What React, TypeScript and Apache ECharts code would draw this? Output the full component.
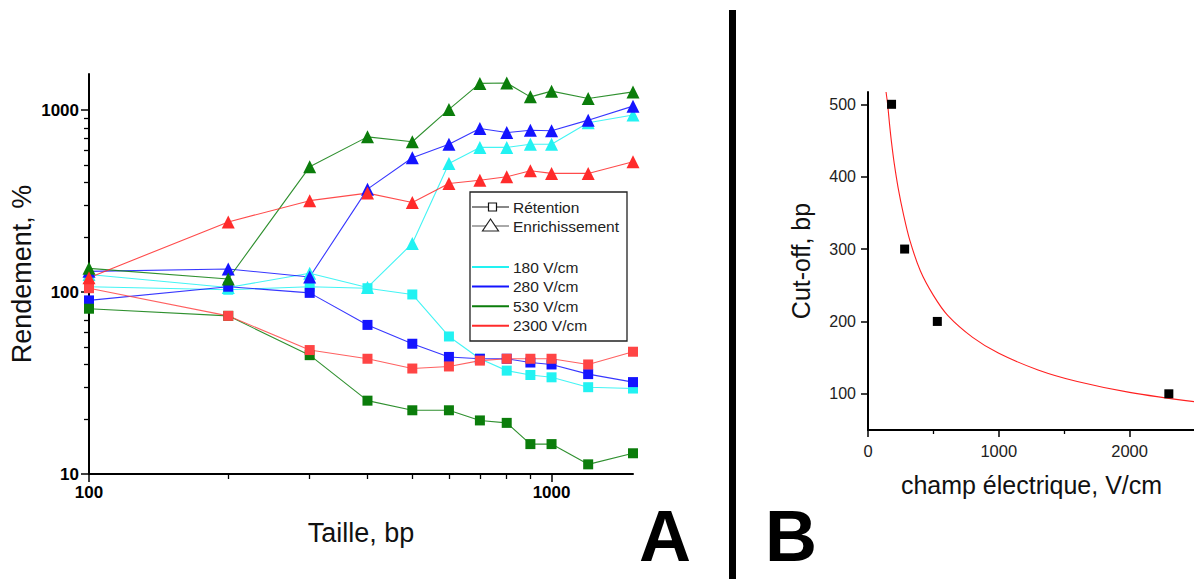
import React, { useEffect, useRef } from 'react';
import * as echarts from 'echarts';

// ---------- Panel A data ----------
const sizes = [100, 200, 300, 400, 500, 600, 700, 800, 900, 1000, 1200, 1500];
const ret180 = [107, 103, 107, 105, 97, 57, 43, 37, 35, 34, 30, 29.5];
const enr180 = [125, 106, 127, 106, 185, 509, 624, 624, 650, 650, 852, 940];
const ret280 = [90, 107, 99, 66, 52, 44, 43, 43, 41, 40, 35.4, 32];
const enr280 = [130, 134, 121, 368, 547, 650, 793, 753, 776, 770, 881, 1052];
const ret530 = [81, 74, 45, 25.3, 22.4, 22.4, 19.7, 19.1, 14.6, 14.6, 11.3, 13];
const enr530 = [135, 118, 488, 713, 670, 1009, 1403, 1410, 1183, 1272, 1159, 1260];
const ret2300 = [105, 74, 48, 43, 38, 39, 42, 43, 43, 43, 40, 47];
const enr2300 = [120, 243, 318, 350, 311, 395, 412, 430, 464, 449, 449, 520];

const fieldLabels = ['180 V/cm', '280 V/cm', '530 V/cm', '2300 V/cm'];
const typeLabels = ['Rétention', 'Enrichissement'];

const aMajorX = [100, 1000];
const aMinorX = [200, 300, 400, 500, 600, 700, 800, 900];
const aMajorY = [10, 100, 1000];
const aMinorY = [20, 30, 40, 50, 60, 70, 80, 90, 200, 300, 400, 500, 600, 700, 800, 900];

// ---------- Panel B data ----------
const fieldB = [180, 280, 530, 2300];
const cutoffB = [500, 300, 200, 100];
const fitX = [138, 150, 165, 180, 200, 230, 270, 320, 400, 500, 611, 800, 1000, 1300, 1600, 2000, 2500];
const fitY = [517, 500, 472, 447, 419, 385, 349, 312, 270, 236, 208, 178, 156, 133, 117, 102, 89];
const bMajorX = [0, 1000, 2000];
const bMinorX = [500, 1500];
const bTicksY = [100, 200, 300, 400, 500];

const CYAN = '#22f2f2';
const BLUE = '#1414ff';
const GREEN = '#0b7d0b';
const RED = '#ff2b2b';
const FONT = '"Liberation Sans", Arial, sans-serif';

const pairs = (xs: number[], ys: number[]) => xs.map((x, i) => [x, ys[i]]);

function lineSeries(data: number[], color: string, symbol: string, size: number) {
  return {
    type: 'line',
    xAxisIndex: 0,
    yAxisIndex: 0,
    data: pairs(sizes, data),
    symbol,
    symbolSize: size,
    showAllSymbol: true,
    lineStyle: { color, width: 1.1, opacity: 0.85 },
    itemStyle: { color, borderWidth: 0, opacity: 1 },
    emphasis: { disabled: true },
    clip: true,
    z: 3,
  };
}

const logLabelFmt = (v: number) => String(Math.round(v));

const baseAxis = {
  splitLine: { show: false },
  nameMoveOverlap: false,
};

const option: any = {
  animation: false,
  backgroundColor: '#ffffff',
  textStyle: { fontFamily: FONT },
  grid: [
    { left: 89, top: 74, width: 544, height: 400, containLabel: false, outerBoundsMode: 'none' },
    { left: 868, top: 92, width: 327, height: 338, containLabel: false, outerBoundsMode: 'none' },
  ],
  xAxis: [
    {
      ...baseAxis,
      type: 'log', logBase: 10, gridIndex: 0, min: 100, max: 1500, position: 'bottom',
      axisLine: { show: true, lineStyle: { color: '#000', width: 2 } },
      axisTick: { show: true, customValues: aMajorX, length: 8, lineStyle: { color: '#000', width: 1.5 } },
      minorTick: { show: false },
      axisLabel: { show: true, customValues: aMajorX, formatter: logLabelFmt, color: '#000', fontWeight: 'bold', fontSize: 17, margin: 10, fontFamily: FONT },
      name: 'Taille, bp', nameLocation: 'middle', nameGap: 45,
      nameTextStyle: { fontSize: 27, color: '#111', fontFamily: FONT },
    },
    {
      ...baseAxis,
      type: 'log', logBase: 10, gridIndex: 0, min: 100, max: 1500, position: 'bottom',
      axisLine: { show: false },
      axisTick: { show: true, customValues: aMinorX, length: 5, lineStyle: { color: '#000', width: 1.3 } },
      axisLabel: { show: false },
    },
    {
      ...baseAxis,
      type: 'value', gridIndex: 1, min: 0, max: 2500, interval: 500, position: 'bottom',
      axisLine: { show: true, lineStyle: { color: '#000', width: 2 } },
      axisTick: { show: true, customValues: bMajorX, length: 7, lineStyle: { color: '#000', width: 1.5 } },
      axisLabel: { show: true, customValues: bMajorX, formatter: (v: number) => String(v), color: '#222', fontSize: 16.5, margin: 12, fontFamily: FONT },
      name: 'champ électrique, V/cm', nameLocation: 'middle', nameGap: 42,
      nameTextStyle: { fontSize: 25, color: '#111', fontFamily: FONT },
    },
    {
      ...baseAxis,
      type: 'value', gridIndex: 1, min: 0, max: 2500, interval: 500, position: 'bottom',
      axisLine: { show: false },
      axisTick: { show: true, customValues: bMinorX, length: 4, lineStyle: { color: '#000', width: 1.3 } },
      axisLabel: { show: false },
    },
  ],
  yAxis: [
    {
      ...baseAxis,
      type: 'log', logBase: 10, gridIndex: 0, min: 10, max: 1580, position: 'left',
      axisLine: { show: true, lineStyle: { color: '#000', width: 2 } },
      axisTick: { show: true, customValues: aMajorY, length: 8, lineStyle: { color: '#000', width: 1.5 } },
      minorTick: { show: false },
      axisLabel: { show: true, customValues: aMajorY, formatter: logLabelFmt, color: '#000', fontWeight: 'bold', fontSize: 17, margin: 10, fontFamily: FONT },
      name: 'Rendement, %', nameLocation: 'middle', nameGap: 54,
      nameTextStyle: { fontSize: 27, color: '#111', fontFamily: FONT },
    },
    {
      ...baseAxis,
      type: 'log', logBase: 10, gridIndex: 0, min: 10, max: 1580, position: 'left',
      axisLine: { show: false },
      axisTick: { show: true, customValues: aMinorY, length: 5, lineStyle: { color: '#000', width: 1.3 } },
      axisLabel: { show: false },
    },
    {
      ...baseAxis,
      type: 'value', gridIndex: 1, min: 50, max: 517, position: 'left',
      axisLine: { show: true, lineStyle: { color: '#000', width: 2 } },
      axisTick: { show: true, customValues: bTicksY, length: 7, lineStyle: { color: '#000', width: 1.5 } },
      axisLabel: { show: true, customValues: bTicksY, color: '#222', fontSize: 16, margin: 12, fontFamily: FONT },
      name: 'Cut-off, bp', nameLocation: 'middle', nameGap: 55,
      nameTextStyle: { fontSize: 25, color: '#111', fontFamily: FONT },
    },
  ],
  series: [
    lineSeries(ret180, CYAN, 'rect', 10),
    lineSeries(enr180, CYAN, 'triangle', 13),
    lineSeries(ret280, BLUE, 'rect', 10),
    lineSeries(enr280, BLUE, 'triangle', 13),
    lineSeries(ret530, GREEN, 'rect', 10),
    lineSeries(enr530, GREEN, 'triangle', 13),
    lineSeries(ret2300, '#ff4545', 'rect', 10),
    lineSeries(enr2300, RED, 'triangle', 13),
    {
      type: 'line', xAxisIndex: 2, yAxisIndex: 2,
      data: pairs(fitX, fitY), smooth: 0.35, showSymbol: false,
      lineStyle: { color: '#ff2020', width: 1.1 }, clip: true, z: 2,
      emphasis: { disabled: true },
    },
    {
      type: 'scatter', xAxisIndex: 2, yAxisIndex: 2,
      data: pairs(fieldB, cutoffB), symbol: 'rect', symbolSize: 9,
      itemStyle: { color: '#000', opacity: 1 }, z: 3,
      emphasis: { disabled: true },
    },
  ],
  graphic: [
    { type: 'rect', z: 100, shape: { x: 729, y: 10, width: 7, height: 569 }, style: { fill: '#000' } },
    { type: 'text', z: 100, style: { text: 'A', x: 639, y: 536, font: `bold 72px ${FONT}`, fill: '#000', textVerticalAlign: 'middle' } },
    { type: 'text', z: 100, style: { text: 'B', x: 765, y: 536, font: `bold 72px ${FONT}`, fill: '#000', textVerticalAlign: 'middle' } },
    // legend box
    { type: 'rect', z: 50, shape: { x: 470, y: 192, width: 157, height: 149 }, style: { fill: '#fff', stroke: '#222', lineWidth: 1.3 } },
    { type: 'line', z: 51, shape: { x1: 472, y1: 207, x2: 509, y2: 207 }, style: { stroke: '#111', lineWidth: 1.2 } },
    { type: 'rect', z: 52, shape: { x: 488.5, y: 203, width: 8, height: 8 }, style: { fill: '#fff', stroke: '#111', lineWidth: 1.2 } },
    { type: 'text', z: 52, style: { text: typeLabels[0], x: 513, y: 207, font: `15.5px ${FONT}`, fill: '#222', textVerticalAlign: 'middle' } },
    { type: 'line', z: 51, shape: { x1: 472, y1: 226, x2: 509, y2: 226 }, style: { stroke: '#555', lineWidth: 1.2 } },
    { type: 'polygon', z: 52, shape: { points: [[490.5, 219], [482.5, 231], [498.5, 231]] }, style: { fill: '#fff', stroke: '#222', lineWidth: 1.2 } },
    { type: 'text', z: 52, style: { text: typeLabels[1], x: 513, y: 226, font: `15.5px ${FONT}`, fill: '#222', textVerticalAlign: 'middle' } },
    ...[CYAN, BLUE, GREEN, RED].flatMap((c, i) => {
      const y = 267 + i * 19.6;
      return [
        { type: 'line', z: 51, shape: { x1: 472, y1: y, x2: 509, y2: y }, style: { stroke: c, lineWidth: 2 } },
        { type: 'text', z: 52, style: { text: fieldLabels[i], x: 513, y, font: `15.5px ${FONT}`, fill: '#222', textVerticalAlign: 'middle' } },
      ];
    }),
  ],
};

export default function App() {
  const ref = useRef<HTMLDivElement>(null);
  useEffect(() => {
    const chart = echarts.init(ref.current!, null, { renderer: 'svg' });
    chart.setOption(option);
    return () => chart.dispose();
  }, []);
  return (
    <div
      ref={ref}
      style={{ position: 'absolute', left: 0, top: 0, width: 1194, height: 579, background: '#fff' }}
    />
  );
}
